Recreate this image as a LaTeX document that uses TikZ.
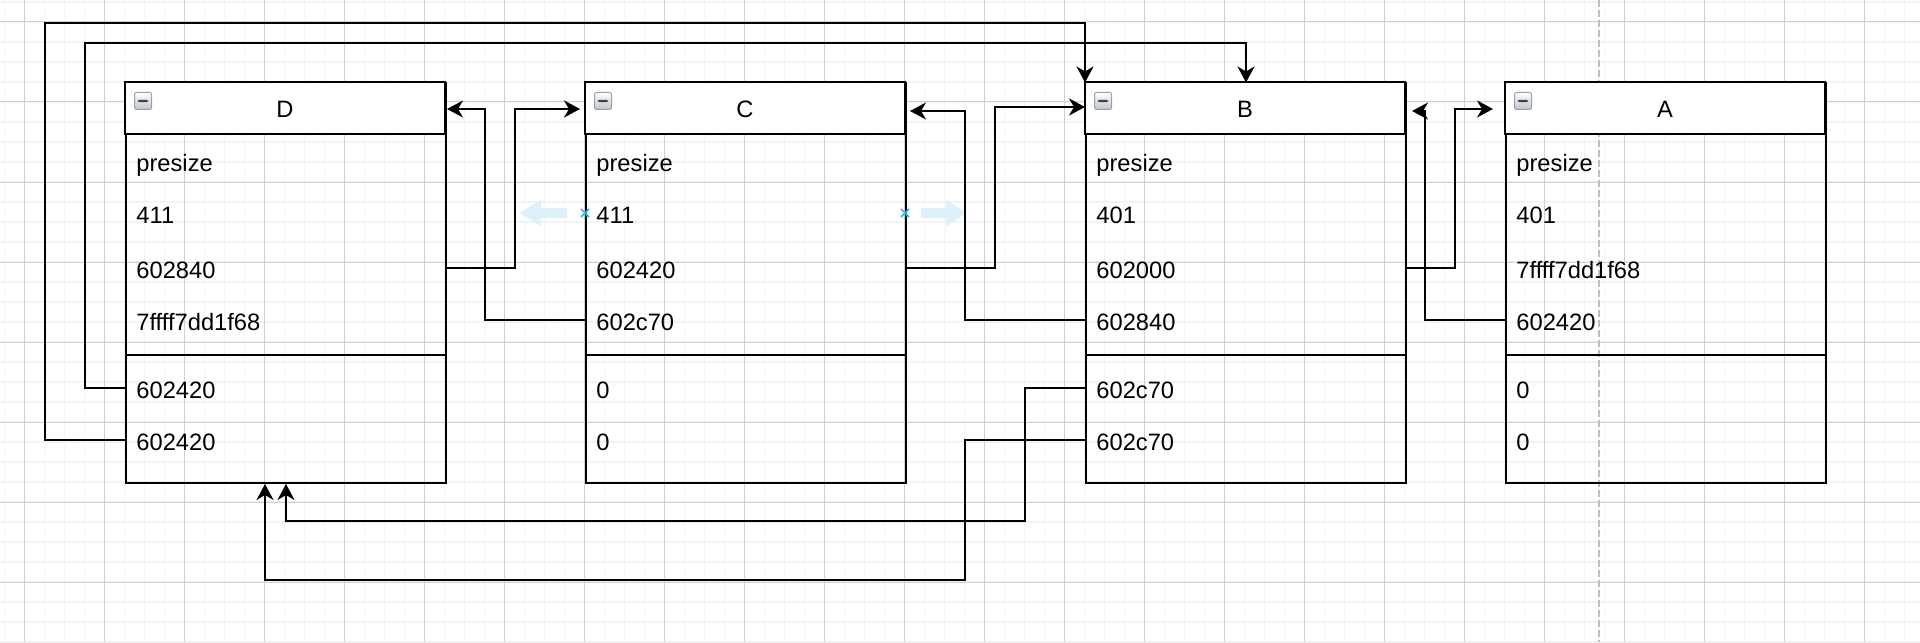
\documentclass[tikz,border=0pt]{standalone}
\usepackage{fontspec}
\setmainfont{Liberation Sans}
\usetikzlibrary{arrows.meta}
\definecolor{gridminor}{RGB}{243,243,243}
\definecolor{gridmajor}{RGB}{208,208,208}
\definecolor{guidegray}{RGB}{190,190,190}
\definecolor{hoverblue}{RGB}{41,182,242}
\definecolor{hoverfill}{RGB}{222,240,251}
\definecolor{iconborder}{RGB}{150,160,172}
\definecolor{iconbottom}{RGB}{190,197,206}
\tikzset{
  labelfont/.style={font=\fontsize{11.85}{14}\selectfont},
  boxframe/.style={draw=black, line width=1pt, minimum width=160pt, minimum height=199.75pt, inner sep=0pt, anchor=north west},
  headfill/.style={fill=white, draw=black, line width=1pt},
  sepline/.style={draw=black, line width=1pt},
  titletext/.style={labelfont, anchor=base, inner sep=0pt},
  rowtext/.style={labelfont, anchor=west, inner sep=0pt, text height=10pt, text depth=0pt},
  minusicon/.style={minimum size=8.5pt, inner sep=0pt, rounded corners=1pt, draw=iconborder, line width=0.5pt,
    top color=white, bottom color=iconbottom,
    path picture={\fill[black!75] ([xshift=-2.6pt,yshift=-0.6pt]path picture bounding box.center) rectangle ([xshift=2.6pt,yshift=0.6pt]path picture bounding box.center);}},
  conn/.style={draw=black, line width=1pt, -{Stealth[length=8pt,width=8.5pt,inset=2.5pt]}},
  minorline/.style={draw=gridminor, line width=0.9pt},
  majorline/.style={draw=gridmajor, line width=0.5pt},
  guideline/.style={draw=guidegray, line width=1pt, dash pattern=on 3.5pt off 1.5pt},
  hoverarrow/.style={fill=hoverfill},
  hovermark/.style={draw=hoverblue, line width=0.8pt}
}
\newcommand{\umlbox}[9]{%
  \node[boxframe] (#1) at (#2,82.5) {};
  \path[headfill] (#2,82.5) rectangle ({#2+320},134);
  \path[sepline] (#2,355) -- ({#2+320},355);
  \node[minusicon] (#1i) at ({#2+18},101) {};
  \node[titletext] (#1t) at ({#2+160},117.5) {#3};
  \node[rowtext] (#1r1) at ({#2+11},161) {#4};
  \node[rowtext] (#1r2) at ({#2+11},213) {#5};
  \node[rowtext] (#1r3) at ({#2+11},268) {#6};
  \node[rowtext] (#1r4) at ({#2+11},320) {#7};
  \node[rowtext] (#1r5) at ({#2+11},388) {#8};
  \node[rowtext] (#1r6) at ({#2+11},440) {#9};
}
\begin{document}
\begin{tikzpicture}[x=0.5pt,y=-0.5pt]
\useasboundingbox (0,0) rectangle (1920,642);
\fill[white] (0,0) rectangle (1920,642);
% grid
\foreach \i in {0,...,95} \path[minorline] ({4.5+20*\i},0) -- ({4.5+20*\i},642);
\foreach \j in {0,...,32} \path[minorline] (0,{2+20*\j}) -- (1920,{2+20*\j});
\foreach \i in {0,...,23} \path[majorline] ({24.5+80*\i},0) -- ({24.5+80*\i},642);
\foreach \j in {0,...,7} \path[majorline] (0,{22+80*\j}) -- (1920,{22+80*\j});
% guide
\path[guideline] (1599,0) -- (1599,642);
% hover arrows
\fill[hoverarrow] (567,208) -- (541,208) -- (541,199.5) -- (520,213) -- (541,226.5) -- (541,218) -- (567,218) -- cycle;
\fill[hoverarrow] (921,208) -- (946,208) -- (946,199.5) -- (966,213) -- (946,226.5) -- (946,218) -- (921,218) -- cycle;
% boxes
\umlbox{D}{125}{D}{presize}{411}{602840}{7ffff7dd1f68}{602420}{602420}
\umlbox{C}{585}{C}{presize}{411}{602420}{602c70}{0}{0}
\umlbox{B}{1085}{B}{presize}{401}{602000}{602840}{602c70}{602c70}
\umlbox{A}{1505}{A}{presize}{401}{7ffff7dd1f68}{602420}{0}{0}
% hover marks
\path[hovermark] (581,209) -- (589,217) (581,217) -- (589,209);
\path[hovermark] (901,209) -- (909,217) (901,217) -- (909,209);
% connectors
\draw[conn] (D.west |- Dr6) -| (45,23) -| (B.north west);
\draw[conn] (D.west |- Dr5) -| (85,43) -| (B.north);
\draw[conn, shorten >=2.5pt] (D.east |- Dr3) -| (515,109) -- (C.west |- 0,109);
\draw[conn] (C.west |- Cr4) -| (485,109) -- (D.east |- 0,109);
\draw[conn] (C.east |- Cr3) -| (995,107) -- (B.west |- 0,107);
\draw[conn, shorten >=1.5pt] (B.west |- Br4) -| (965,111) -- (C.east |- 0,111);
\draw[conn, shorten >=6pt] (B.east |- Br3) -| (1455,109) -- (A.west |- 0,109);
\draw[conn, shorten >=2.5pt] (A.west |- Ar4) -| (1425,111) -- (B.east |- 0,111);
\draw[conn] (B.west |- Br5) -| (1025,521) -| (D.south);
\draw[conn] (B.west |- Br6) -| (965,580) -| (D.south -| 265,0);
\end{tikzpicture}
\end{document}
